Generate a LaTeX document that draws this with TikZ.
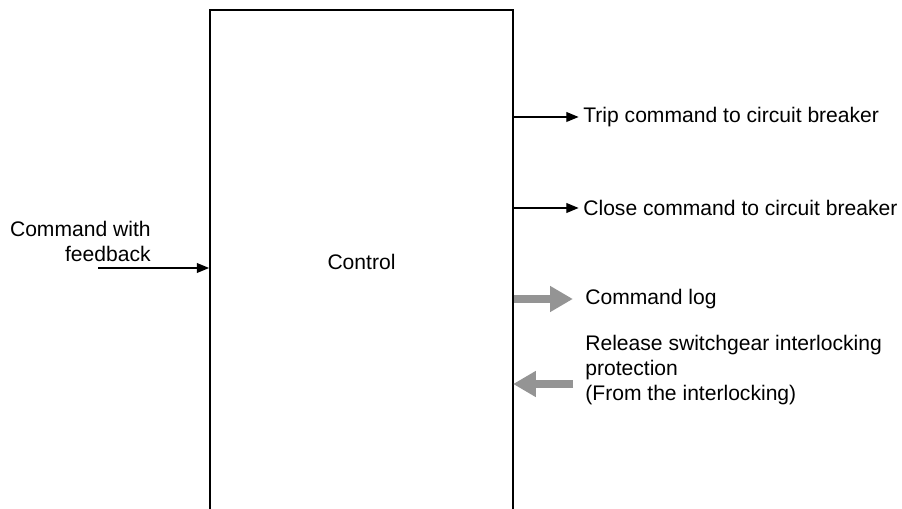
\documentclass[tikz,border=0pt]{standalone}
\usepackage{fontspec}
\setmainfont{Liberation Sans}
\usetikzlibrary{arrows.meta}

\tikzset{
  lbl/.style={anchor=west, inner sep=0pt, align=left, font=\fontsize{12}{14.2}\selectfont},
  sig/.style={line width=0.75pt, -{Triangle[length=7pt, width=5.6pt]}},
  fat/.style={line width=4pt, draw=black!42, -{Triangle[length=13pt, width=14pt]}, shorten >=-0.5pt}
}

\begin{document}
\begin{tikzpicture}[x=0.02cm, y=-0.02cm]
  % canvas 902 x 509 px, y going down
  \useasboundingbox (0,0) rectangle (902,509);
  \clip (0,0) rectangle (902,509);
  % control box, bottom edge lies below the page
  \node[draw, line width=1.1pt, minimum width=6.06cm, minimum height=11.8cm, inner sep=0pt] (ctrl) at (361.5,305) {};
  \node[font=\fontsize{12}{14.2}\selectfont] (ctrltxt) at (361.5,262) {Control};
  % input
  \node[lbl, anchor=east, align=right] (cmdtxt) at (151,241) {Command with\\feedback};
  \coordinate (cmdin) at (98,268);
  \draw[sig] (cmdin) -- (cmdin -| ctrl.west);
  % outputs
  \node[lbl] (trip) at (583,117) {Trip command to circuit breaker};
  \node[lbl] (close) at (583,208) {Close command to circuit breaker};
  \draw[sig, shorten >=2.5pt] (ctrl.east |- trip.west) -- (trip.west);
  \draw[sig, shorten >=2.5pt] (ctrl.east |- close.west) -- (close.west);
  % log and interlocking
  \node[lbl] (log) at (585,299) {Command log};
  \node[lbl] (rel) at (585,370) {Release switchgear interlocking\\protection\\(From the interlocking)};
  \coordinate (logend) at (572,299);
  \coordinate (relstart) at (573,384);
  \draw[fat] (ctrl.east |- logend) -- (logend);
  \draw[fat] (relstart) -- (relstart -| ctrl.east);
\end{tikzpicture}
\end{document}
